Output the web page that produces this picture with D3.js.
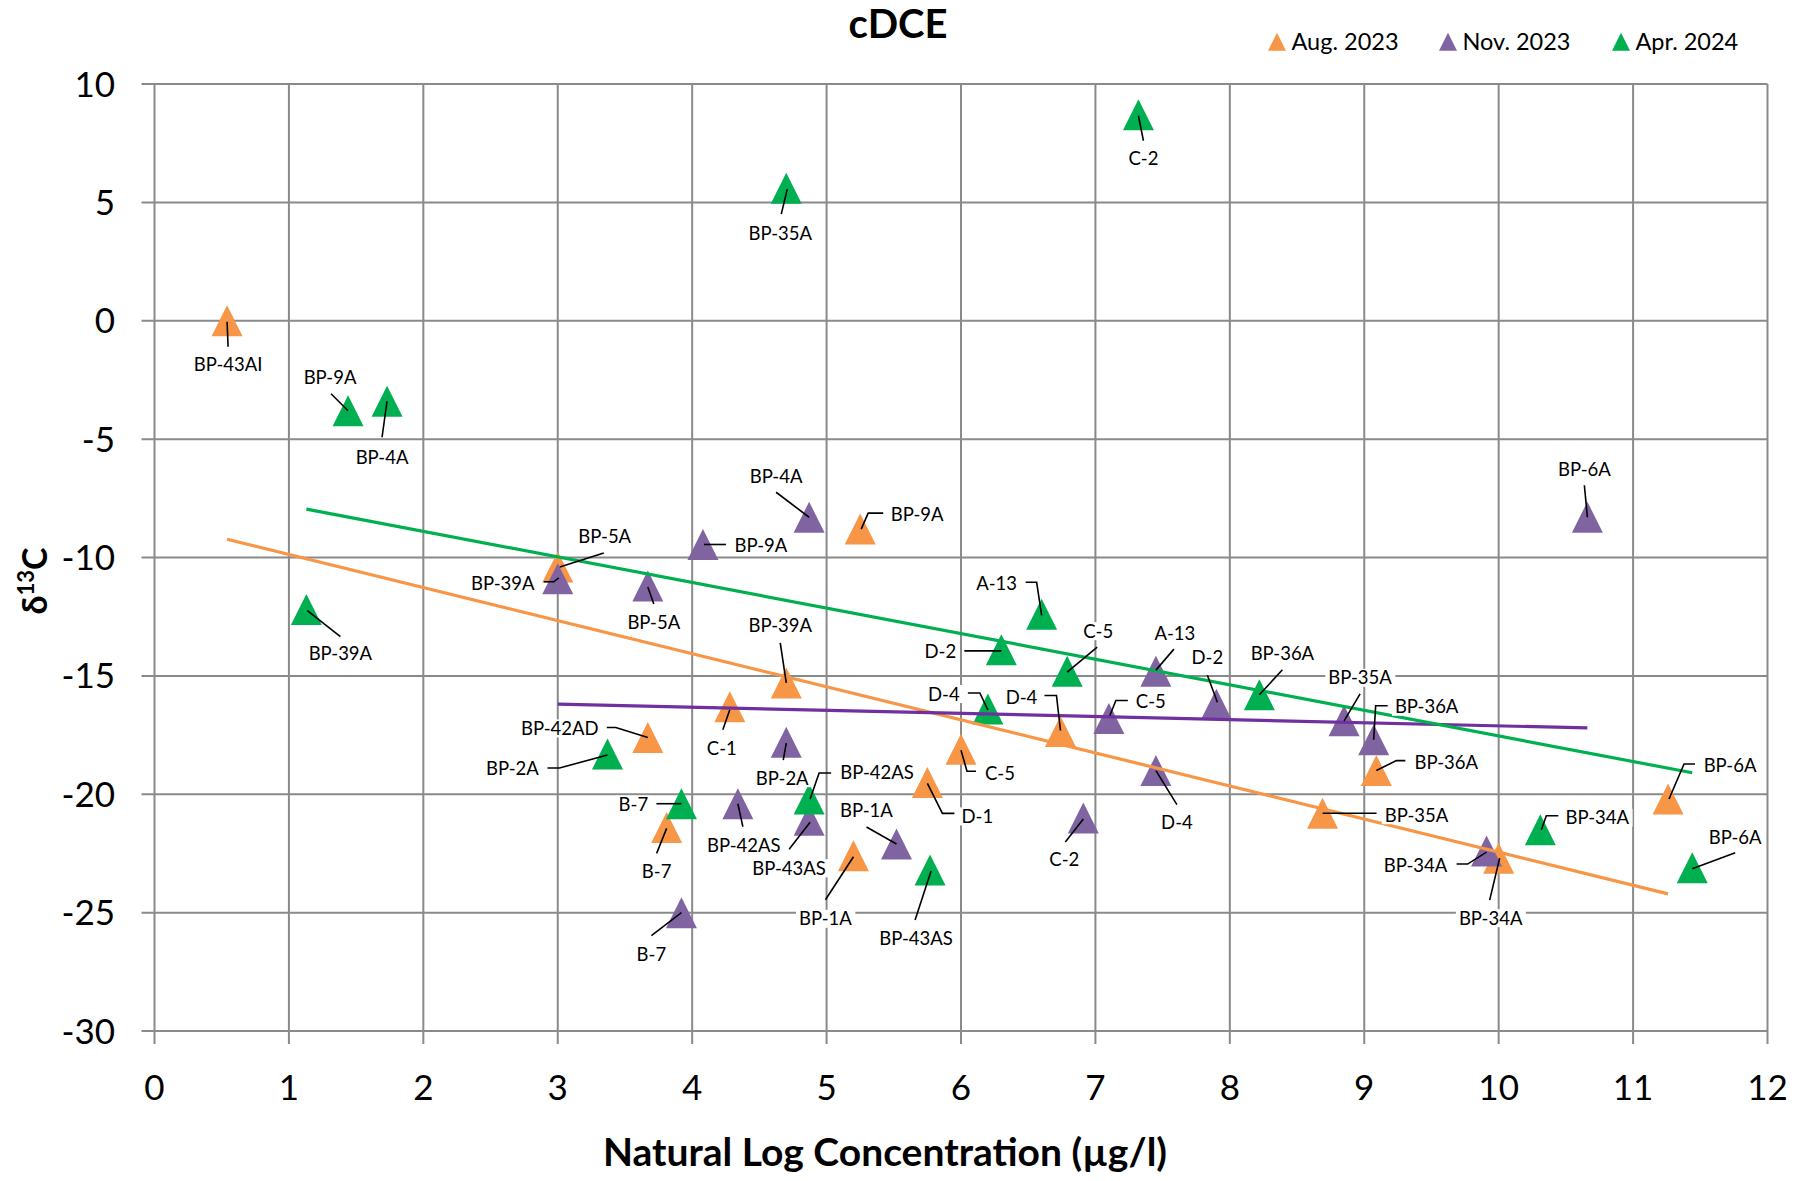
<!DOCTYPE html>
<html>
<head>
<meta charset="utf-8">
<script src="https://cdn.jsdelivr.net/npm/d3@7"></script>
<style>
  body { margin: 0; background: #fff; }
  svg text { font-family: Lato, "Open Sans", sans-serif; fill: #000; }
</style>
</head>
<body>
<div id="chart"></div>
<script>
// cDCE isotope data, one set of arrays per sampling round

// Aug. 2023
const augSites = ["BP-43AI", "BP-5A", "BP-9A", "BP-39A", "C-1", "BP-42AD", "B-7", "BP-1A",
                  "C-5", "D-1", "D-4", "BP-35A", "BP-36A", "BP-34A", "BP-6A"];
const augLnC  = [0.54, 3.0, 5.25, 4.70, 4.28, 3.67, 3.81, 5.2, 6.0, 5.75, 6.74, 8.69, 9.09, 10.0, 11.26];
const augD13C = [0.0, -10.4, -8.8, -15.3, -16.3, -17.6, -21.4, -22.6, -18.1, -19.5, -17.35, -20.8, -19.0, -22.7, -20.2];

// Nov. 2023
const novSites = ["BP-39A", "BP-9A", "BP-4A", "BP-5A", "BP-2A", "A-13", "C-5", "D-4", "D-2",
                  "BP-35A", "BP-36A", "BP-6A", "B-7", "BP-42AS", "BP-43AS", "BP-1A", "C-2", "BP-34A"];
const novLnC  = [3.0, 4.08, 4.87, 3.67, 4.70, 7.45, 7.1, 7.45, 7.9, 8.85, 9.07, 10.66, 3.92, 4.34, 4.87, 5.52, 6.91, 9.91];
const novD13C = [-10.9, -9.45, -8.3, -11.2, -17.8, -14.8, -16.8, -19.0, -16.2, -16.9, -17.7, -8.3, -25.0, -20.4, -21.1, -22.1, -21.0, -22.4];

// Apr. 2024
const aprSites = ["C-2", "BP-35A", "BP-9A", "BP-4A", "BP-39A", "BP-2A", "A-13", "D-2", "C-5",
                  "D-4", "BP-36A", "B-7", "BP-42AS", "BP-43AS", "BP-34A", "BP-6A"];
const aprLnC  = [7.32, 4.70, 1.44, 1.73, 1.13, 3.37, 6.6, 6.3, 6.79, 6.2, 8.22, 3.92, 4.87, 5.77, 10.31, 11.44];
const aprD13C = [8.7, 5.6, -3.8, -3.4, -12.2, -18.3, -12.4, -13.9, -14.8, -16.4, -15.8, -20.4, -20.2, -23.2, -21.5, -23.1];

const xTicks = [0, 1, 2, 3, 4, 5, 6, 7, 8, 9, 10, 11, 12];
const yTicks = [10, 5, 0, -5, -10, -15, -20, -25, -30];

// label placement (pixel offsets from the marker), kept apart from the data
const augLabelAt = [[1,44],[47,-30],[57,-15],[-6,-57],[-8,42],[-88,-9],[-10,44],[-28,63],[39,24],[50,34],[-39,-34],[94,2],[70,-8],[-8,60],[62,-33]];
const augLeader = [
  [[0,1],[1,26]], [[2,0],[46,-14]], [[1,0],[8,-16],[23,-16]], [[0,0],[-6,-40]], [[0,3],[-7,23]],
  [[0,0],[-32,-10],[-41,-10]], [[0,1],[-10,26]], [[0,1],[-28,44]], [[0,1],[6,22],[15,22]],
  [[0,1],[15,31],[27,31]], [[0,-1],[-4,-36],[-16,-36]], [[0,0],[54,0]], [[0,0],[20,-10],[29,-10]],
  [[1,0],[-9,42]], [[1,0],[16,-35],[27,-35]]
];
const novLabelAt = [[-55,5],[58,1],[-33,-41],[6,37],[-4,36],[19,-38],[42,-17],[21,52],[-9,-47],[16,-43],[53,-33],[-3,-48],[-30,42],[6,42],[-20,48],[-30,-33],[-19,42],[-71,14]];
const novLeader = [
  [[1,-1],[-4,3],[-14,3]], [[1,0],[23,0]], [[0,0],[-33,-25]], [[0,1],[6,18]], [[0,1],[-3,18]],
  [[0,-1],[18,-22]], [[1,-3],[7,-18],[19,-18]], [[0,0],[21,34]], [[1,-2],[-9,-29]], [[0,0],[16,-27]],
  [[0,0],[2,-34],[14,-34]], [[0,0],[-3,-32]], [[0,0],[-30,23]], [[0,0],[5,23]], [[1,2],[-20,29]],
  [[0,0],[-30,-17]], [[0,1],[-18,24]], [[0,1],[-19,13],[-30,13]]
];
const aprLabelAt = [[5,44],[-6,45],[-18,-33],[-5,56],[34,44],[-95,14],[-45,-31],[-61,2],[31,-40],[-44,-15],[23,-41],[-48,1],[68,-26],[-14,68],[57,-12],[43,-30]];
const aprLeader = [
  [[0,1],[5,26]], [[1,1],[-5,26]], [[0,0],[-17,-17]], [[0,0],[-5,36]], [[1,1],[34,27]],
  [[0,1],[-48,14],[-60,14]], [[0,1],[-5,-32],[-16,-32]], [[0,1],[-37,1]], [[0,1],[30,-24]],
  [[0,1],[-8,-16],[-20,-16]], [[0,0],[23,-25]], [[0,0],[-25,0]], [[1,0],[10,-26],[22,-26]],
  [[1,1],[-15,50]], [[1,0],[6,-14],[18,-14]], [[0,1],[43,-15]]
];

const series = [
  {name: "Aug. 2023", sites: augSites, x: augLnC, y: augD13C, color: "#f79646", trend: "#f79646", labelAt: augLabelAt, leader: augLeader, legendX: 1268},
  {name: "Nov. 2023", sites: novSites, x: novLnC, y: novD13C, color: "#8064a2", trend: "#7030a0", labelAt: novLabelAt, leader: novLeader, legendX: 1439},
  {name: "Apr. 2024", sites: aprSites, x: aprLnC, y: aprD13C, color: "#00b050", trend: "#00b050", labelAt: aprLabelAt, leader: aprLeader, legendX: 1612}
];

const width = 1808, height = 1181;
const plot = {left: 154.5, right: 1767.5, top: 84, bottom: 1031};

const svg = d3.select("#chart")
  .append("svg")
    .attr("width", width)
    .attr("height", height);

const x = d3.scaleLinear().domain([0, 12]).range([plot.left, plot.right]);
const y = d3.scaleLinear().domain([-30, 10]).range([plot.bottom, plot.top]);

// gridlines
const gridColor = "#8a8a8a";
svg.append("g").selectAll("line")
  .data(xTicks)
  .enter().append("line")
    .attr("x1", d => x(d)).attr("x2", d => x(d))
    .attr("y1", plot.top).attr("y2", plot.bottom + 13)
    .attr("stroke", gridColor).attr("stroke-width", 2);
svg.append("g").selectAll("line")
  .data(yTicks)
  .enter().append("line")
    .attr("x1", plot.left - 13).attr("x2", plot.right)
    .attr("y1", d => y(d)).attr("y2", d => y(d))
    .attr("stroke", gridColor).attr("stroke-width", 2);

// tick labels
svg.append("g").selectAll("text")
  .data(yTicks)
  .enter().append("text")
    .attr("x", 115)
    .attr("y", d => y(d) + 12.5)
    .attr("text-anchor", "end")
    .style("font-size", "35px")
    .text(d => d);
svg.append("g").selectAll("text")
  .data(xTicks)
  .enter().append("text")
    .attr("x", d => x(d))
    .attr("y", 1100)
    .attr("text-anchor", "middle")
    .style("font-size", "35px")
    .text(d => d);

// axis titles and chart title
svg.append("text")
  .attr("x", 885)
  .attr("y", 1166)
  .attr("text-anchor", "middle")
  .style("font-size", "39px")
  .style("font-weight", "bold")
  .text("Natural Log Concentration (µg/l)");

const yTitle = svg.append("text")
  .attr("transform", "translate(47,581) rotate(-90)")
  .attr("text-anchor", "middle")
  .style("font-size", "34px")
  .style("font-weight", "bold");
yTitle.append("tspan").text("δ");
yTitle.append("tspan").attr("dy", -13).style("font-size", "22px").text("13");
yTitle.append("tspan").attr("dy", 13).text("C");

svg.append("text")
  .attr("x", 898)
  .attr("y", 38)
  .attr("text-anchor", "middle")
  .style("font-size", "40px")
  .style("font-weight", "bold")
  .text("cDCE");

// triangle marker, centred on its bounding box like the spreadsheet markers
function triangle(s) {
  return `M0,${-s / 2}L${s / 2},${s / 2}L${-s / 2},${s / 2}Z`;
}

// legend
series.forEach(s => {
  svg.append("path")
    .attr("d", triangle(18))
    .attr("transform", `translate(${s.legendX + 9},41.7)`)
    .attr("fill", s.color);
  svg.append("text")
    .attr("x", s.legendX + 23.5)
    .attr("y", 50)
    .style("font-size", "23.5px")
    .text(s.name);
});

// markers
series.forEach(s => {
  svg.append("g").selectAll("path")
    .data(s.x.map((v, i) => ({lnc: v, d13c: s.y[i]})))
    .enter().append("path")
      .attr("d", triangle(31))
      .attr("transform", d => `translate(${x(d.lnc)},${y(d.d13c)})`)
      .attr("fill", s.color);
});

// least-squares trend lines over each round's own range
series.forEach(s => {
  const mx = d3.mean(s.x), my = d3.mean(s.y);
  let sxy = 0, sxx = 0;
  s.x.forEach((v, i) => { sxy += (v - mx) * (s.y[i] - my); sxx += (v - mx) * (v - mx); });
  const slope = sxy / sxx, icept = my - slope * mx;
  const ends = d3.extent(s.x);
  svg.append("path")
    .datum(ends.map(v => [v, icept + slope * v]))
    .attr("d", d3.line().x(d => x(d[0])).y(d => y(d[1])))
    .attr("fill", "none")
    .attr("stroke", s.trend)
    .attr("stroke-width", 3.2);
});

// data labels with leader lines
const labelLayer = svg.append("g");
const boxes = labelLayer.append("g");
const leaders = labelLayer.append("g");
const texts = labelLayer.append("g");

series.forEach(s => {
  s.sites.forEach((site, i) => {
    const px = x(s.x[i]), py = y(s.y[i]);
    const [dx, dy] = s.labelAt[i];

    leaders.append("path")
      .attr("d", d3.line()(s.leader[i].map(p => [px + p[0], py + p[1]])))
      .attr("fill", "none")
      .attr("stroke", "#000")
      .attr("stroke-width", 1.6);

    const t = texts.append("text")
      .attr("x", px + dx)
      .attr("y", py + dy + 6.5)
      .attr("text-anchor", "middle")
      .style("font-size", "18.5px")
      .text(site);

    const bb = t.node().getBBox();
    boxes.append("rect")
      .attr("x", bb.x - 3)
      .attr("y", py + dy - 9)
      .attr("width", bb.width + 6)
      .attr("height", 18)
      .attr("fill", "#fff");
  });
});
</script>
</body>
</html>
